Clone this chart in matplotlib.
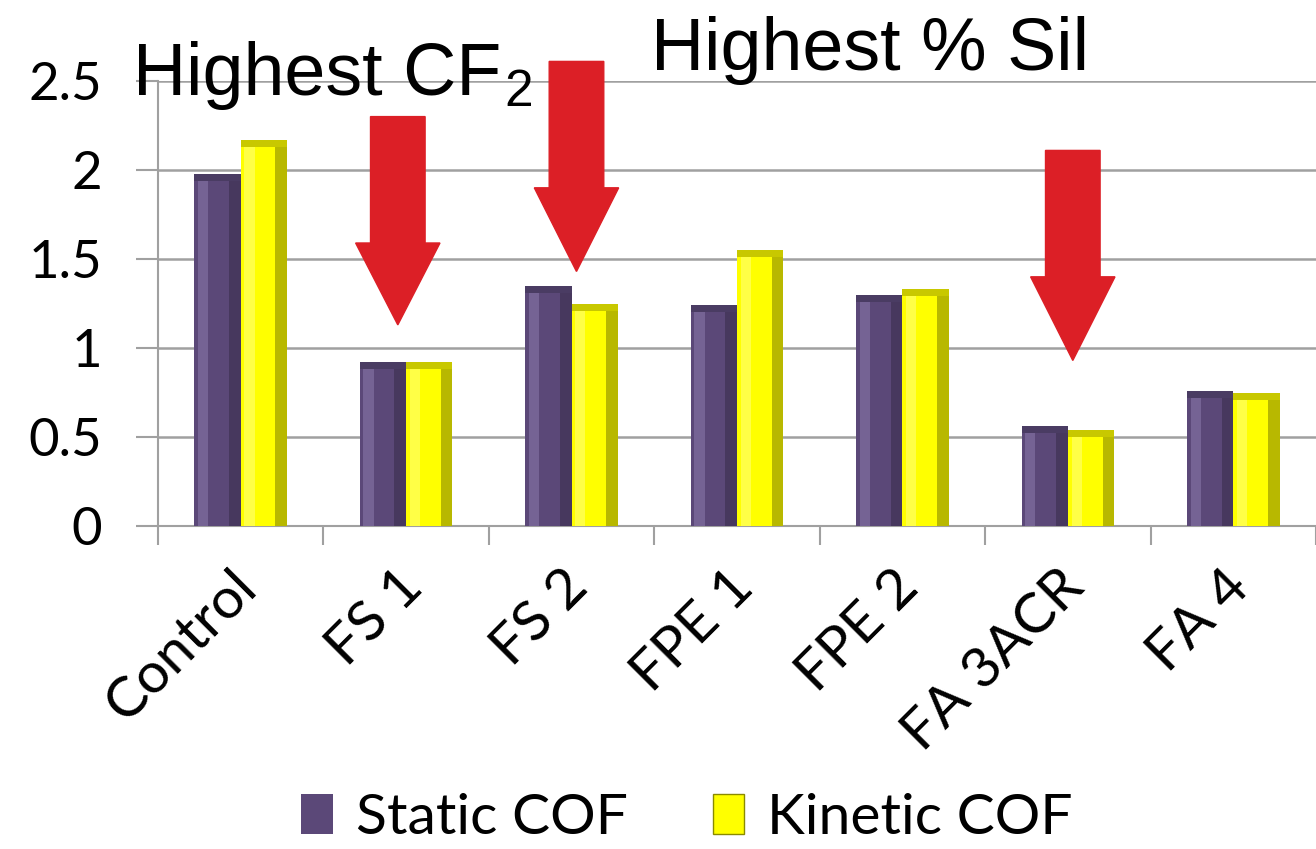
import matplotlib.pyplot as plt
import matplotlib.transforms as mtransforms
from matplotlib.patches import FancyArrow, Patch
import numpy as np

categories = ["Control", "FS 1", "FS 2", "FPE 1", "FPE 2", "FA 3ACR", "FA 4"]
static_cof = [1.98, 0.92, 1.35, 1.24, 1.30, 0.56, 0.76]
kinetic_cof = [2.17, 0.92, 1.25, 1.55, 1.33, 0.54, 0.75]

# arrows: (category position, tip value, tail value, head length)
arrow_x = [0.95, 2.03, 5.03]
arrow_tip = [1.13, 1.43, 0.93]
arrow_tail = [2.30, 2.61, 2.11]
arrow_head = [0.46, 0.47, 0.47]

plt.rcParams['font.family'] = ['Lato', 'DejaVu Sans']

fig = plt.figure(figsize=(13.16, 8.49), dpi=100)
ax = fig.add_axes([0.12, 0.3804, 0.88, 0.5242])

x = np.arange(len(categories))
w = 0.28

def bevel_bar(xs, vals, base, light, dark, top):
    ax.bar(xs, vals, w, color=base, zorder=3, edgecolor='none')
    ax.bar(xs - w / 2 + w * 0.08, vals, w * 0.22, align='edge', color=light, zorder=4, edgecolor='none', alpha=0.55)
    ax.bar(xs + w / 2 - w * 0.25, vals, w * 0.25, align='edge', color=dark, zorder=4, edgecolor='none', alpha=0.6)
    ax.bar(xs, [0.04] * len(vals), w, bottom=np.array(vals) - 0.04, color=top, zorder=5, edgecolor='none')

bevel_bar(x - w / 2, static_cof, '#5b4878', '#8c7aac', '#3a2e4e', '#4a3c63')
bevel_bar(x + w / 2, kinetic_cof, '#ffff00', '#ffff80', '#8a8a00', '#c8c800')

ax.set_ylim(0, 2.5)
ax.set_xlim(-0.5, 6.434)
ax.set_yticks([0, 0.5, 1, 1.5, 2, 2.5])
ax.set_yticklabels(["0", "0.5", "1", "1.5", "2", "2.5"])
ax.set_xticks(x)
ax.set_xticklabels(categories, rotation=45, ha='right', rotation_mode='anchor')
ax.set_xticks(np.arange(-0.5, 7, 1), minor=True)
ax.tick_params(axis='x', which='major', length=0, pad=25, labelsize=41)
ax.tick_params(axis='x', which='minor', length=14, width=1.5, color='#a0a0a0')
ax.tick_params(axis='y', length=16, width=1.5, color='#a0a0a0', pad=24, labelsize=38)
offset = mtransforms.ScaledTranslation(-10 / 100, 0, fig.dpi_scale_trans)
for lab in ax.get_xticklabels():
    lab.set_transform(lab.get_transform() + offset)
ax.grid(axis='y', color='#a0a0a0', linewidth=1.8, zorder=0)
ax.set_axisbelow(True)
for s in ['top', 'right']:
    ax.spines[s].set_visible(False)
ax.spines['left'].set_color('#a0a0a0')
ax.spines['bottom'].set_color('#a0a0a0')
ax.spines['left'].set_linewidth(1.5)
ax.spines['bottom'].set_linewidth(1.5)

for i in range(len(arrow_x)):
    arr = FancyArrow(arrow_x[i], arrow_tail[i], 0, arrow_tip[i] - arrow_tail[i],
                     width=0.33, head_width=0.51, head_length=arrow_head[i],
                     length_includes_head=True, color='#dc1f26', zorder=6, clip_on=False)
    ax.add_patch(arr)

fig.text(0.101, 0.888, "Highest CF", fontsize=53, family='Liberation Sans', va='baseline')
fig.text(0.383, 0.875, "2", fontsize=37, family='Liberation Sans', va='baseline')
fig.text(0.495, 0.9176, "Highest % Sil", fontsize=53, family='Liberation Sans', va='baseline')

handles = [Patch(facecolor='#5b4878', label='Static COF'),
           Patch(facecolor='#ffff00', edgecolor='#8a8a00', label='Kinetic COF')]
fig.legend(handles=handles, loc='center', bbox_to_anchor=(0.522, 0.036), ncol=2,
           frameon=False, fontsize=41, handlelength=0.55, handleheight=0.7,
           handletextpad=0.4, columnspacing=1.5, borderpad=0.2)

fig.savefig("out.png", dpi=100)
